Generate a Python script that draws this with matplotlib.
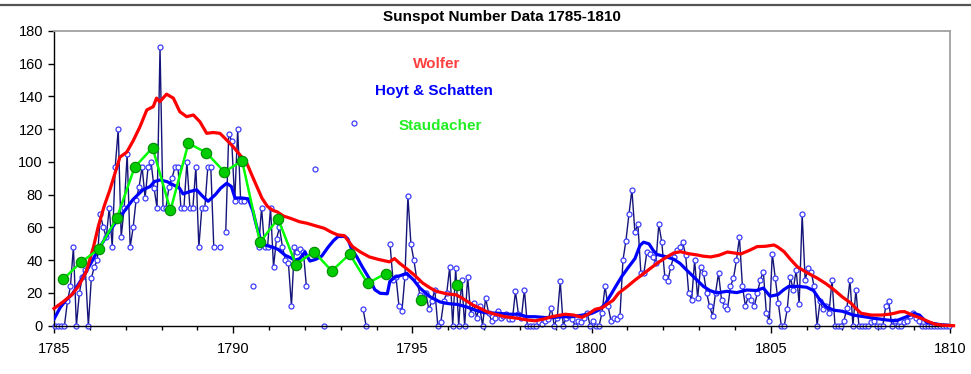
import numpy as np
import matplotlib
matplotlib.use("Agg")
import matplotlib.pyplot as plt
from matplotlib.lines import Line2D

plt.rcParams['font.family'] = ['Liberation Sans', 'DejaVu Sans']

# ---------------------------------------------------------------------------
# Hoyt & Schatten monthly group sunspot numbers, Jan 1785 .. Dec 1809
# (None = no observation that month)
# ---------------------------------------------------------------------------
hs_monthly = [
    0, 0, 0, 0, 15, 24, 48, 0, 20, 30, 34, 0,                 # 1785
    29, 36, 40, 68, 60, 54, 72, 48, 97, 120, 54, 72,           # 1786
    105, 48, 60, 77, 85, 97, 78, 97, 100, 84, 72, 170,         # 1787
    72, 72, 85, 90, 97, 97, 72, 72, 100, 72, 72, 97,           # 1788
    48, 72, 72, 97, 97, 48, None, 48, None, 57, 117, 113,      # 1789
    76, 120, 76, 76, None, None, 24, None, 48, 72, 48, 48,     # 1790
    72, 36, 53, 60, 48, 40, 38, 12, 48, 45, 47, 45,            # 1791
    24, None, None, 96, None, None, 0, None, None, None, None, None,  # 1792
    None, None, None, None, 124, None, None, 10, 0, None, None, None,  # 1793
    None, None, None, None, 50, 28, 30, 12, 9, 30, 79, 50,     # 1794
    40, 28, 19, 16, 20, 10, 15, 22, 0, 2, 15, 20,              # 1795
    36, 0, 35, 0, 28, 0, 30, 7, 14, 5, 12, 0,                  # 1796
    17, 8, 3, 5, 9, 5, 6, 7, 4, 4, 21, 7,                      # 1797
    5, 22, 0, 0, 0, 0, 2, 1, 3, 4, 11, 0,                      # 1798
    5, 27, 0, 5, 6, 4, 0, 3, 2, 5, 8, 0,                       # 1799
    3, 0, 0, 8, 24, 12, 3, 5, 4, 6, 40, 52,                    # 1800
    68, 83, 57, 62, 32, 32, 45, 44, 42, 38, 62, 51,            # 1801
    30, 27, 36, 42, 46, 48, 51, 43, 20, 16, 40, 17,            # 1802
    36, 32, 20, 12, 6, 20, 32, 16, 12, 10, 24, 29,             # 1803
    40, 54, 24, 12, 18, 16, 12, 20, 28, 33, 8, 3,              # 1804
    44, 29, 14, 0, 0, 10, 30, 22, 34, 13, 68, 28,              # 1805
    35, 33, 24, 0, 15, 10, 12, 8, 28, 0, 0, 0,                 # 1806
    3, 11, 28, 0, 22, 0, 0, 0, 0, 2, 3, 0,                     # 1807
    0, 0, 12, 15, 0, 3, 0, 0, 2, 3, 6, 8,                      # 1808
    5, 3, 0, 0, 0, 0, 0, 0, 0, 0, 0, 0,                        # 1809
]

# Smoothed Hoyt & Schatten series
hs_smooth_years = [
    1785.0, 1785.17, 1785.35, 1785.5, 1785.73, 1786.0, 1786.15, 1786.28, 1786.45,
    1786.56, 1786.75, 1786.93, 1787.2, 1787.48, 1787.68, 1787.8, 1787.96, 1788.15,
    1788.33, 1788.5, 1788.6, 1788.8, 1788.98, 1789.15, 1789.3, 1789.5, 1789.65,
    1789.82, 1789.95, 1790.05, 1790.25, 1790.42, 1790.55, 1790.65, 1790.8, 1790.93,
    1791.1, 1791.26, 1791.45, 1791.6, 1791.72, 1791.86, 1792.0, 1792.14, 1792.3,
    1792.47, 1792.65, 1792.8, 1792.93, 1793.12, 1793.2, 1793.3, 1793.45, 1793.6,
    1793.82, 1793.95, 1794.1, 1794.3, 1794.37, 1794.5, 1794.65, 1794.84, 1795.03,
    1795.21, 1795.49, 1795.77, 1796.0, 1796.25, 1796.51, 1796.75, 1797.0, 1797.4,
    1797.7, 1797.96, 1798.19, 1798.42, 1798.7, 1798.9, 1799.2, 1799.45, 1799.75,
    1800.0, 1800.2, 1800.37, 1800.56, 1800.7, 1800.84, 1801.02, 1801.21, 1801.35,
    1801.45, 1801.6, 1801.72, 1801.82, 1802.1, 1802.3, 1802.47, 1802.65, 1802.84,
    1803.12, 1803.3, 1803.49, 1803.77, 1804.05, 1804.33, 1804.6, 1804.79, 1804.98,
    1805.2, 1805.35, 1805.5, 1805.77, 1806.0, 1806.19, 1806.37, 1806.55, 1806.75,
    1807.0, 1807.3, 1807.6, 1807.9, 1808.23, 1808.5, 1808.79, 1809.0, 1809.15,
    1809.35, 1809.58, 1809.8, 1810.0,
]
hs_smooth_values = [
    4, 11, 16, 19, 27, 37, 43, 48, 54,
    58, 64, 69, 77, 83, 85, 88, 89, 88,
    86, 84, 80.5, 82, 83, 79, 76, 80, 84,
    87, 85, 78, 78, 77.5, 70, 61, 50, 49,
    48, 46.5, 43, 41.5, 40, 41, 45, 39.5, 40.5,
    42.5, 48, 52, 54.5, 54.5, 53, 47, 42, 36,
    28, 22, 19.8, 19.5, 27, 29.5, 30.5, 32, 28,
    23, 17.7, 14.5, 13.5, 13, 11.5, 9.5, 8, 7.6,
    7, 7, 5.5, 5.5, 5, 5, 5.5, 5.5, 6.5,
    7.5, 9.5, 13, 19.8, 25, 30, 35.5, 41, 49,
    51, 50, 46, 43.5, 42, 40.5, 38, 34, 30,
    24, 21.5, 20, 21, 20.2, 21.8, 21.5, 23, 18,
    19, 21.8, 24, 24, 23.5, 21.5, 15.7, 11.5, 9.5,
    8.8, 6.5, 5.5, 4.5, 3.5, 3, 5.5, 7.5, 6.5,
    2, 1.2, 0.4, 0,
]

# Wolfer smoothed sunspot numbers
wolfer_years = [
    1785.0, 1785.25, 1785.5, 1785.68, 1785.9, 1786.1, 1786.24, 1786.4, 1786.56,
    1786.7, 1786.84, 1787.03, 1787.21, 1787.4, 1787.59, 1787.77, 1787.86, 1787.95,
    1788.14, 1788.33, 1788.51, 1788.7, 1788.89, 1789.07, 1789.26, 1789.44, 1789.63,
    1789.82, 1790.0, 1790.19, 1790.38, 1790.52, 1790.66, 1790.8, 1790.95, 1791.1,
    1791.23, 1791.4, 1791.61, 1791.85, 1792.07, 1792.3, 1792.54, 1792.75, 1792.91,
    1793.1, 1793.33, 1793.55, 1793.8, 1794.05, 1794.36, 1794.5, 1794.65, 1794.83,
    1795.05, 1795.29, 1795.5, 1795.67, 1795.95, 1796.23, 1796.45, 1796.69, 1796.9,
    1797.07, 1797.3, 1797.58, 1797.95, 1798.2, 1798.42, 1798.65, 1798.89, 1799.26,
    1799.5, 1799.73, 1799.9, 1800.1, 1800.3, 1800.47, 1800.6, 1800.75, 1801.0,
    1801.22, 1801.4, 1801.64, 1801.85, 1802.1, 1802.3, 1802.48, 1802.7, 1802.95,
    1803.1, 1803.32, 1803.55, 1803.79, 1803.95, 1804.16, 1804.4, 1804.62, 1804.85,
    1805.09, 1805.2, 1805.37, 1805.55, 1805.74, 1806.0, 1806.3, 1806.55, 1806.77,
    1807.0, 1807.24, 1807.4, 1807.52, 1807.8, 1808.08, 1808.3, 1808.45, 1808.6,
    1808.73, 1808.95, 1809.2, 1809.4, 1809.57, 1809.8, 1810.1,
]
wolfer_values = [
    10.5, 14.5, 19, 24, 33, 48, 61, 73, 83,
    93, 103, 106, 113, 121.6, 131.8, 133.8, 139, 136.8,
    141.4, 139, 130.7, 127.7, 128.7, 124.6, 117.5, 118, 117.5,
    113.4, 109.3, 104.3, 99.2, 92, 85, 78, 73, 70.5,
    69.5, 67, 65.5, 63.5, 62.5, 61, 59.5, 57, 55.5,
    55, 48.3, 45, 42, 40.5, 39, 41, 38, 35,
    31, 26, 23, 21, 19.5, 18.8, 16, 12.6, 10.5,
    8.6, 7, 5.5, 4.5, 3.5, 3, 4, 5.5, 7,
    6.5, 5.1, 7, 10, 11, 13.7, 15.5, 19.8, 24,
    28, 31, 35, 38.5, 42, 44.5, 45.2, 44, 43.2,
    42.5, 42, 43, 45, 44.5, 43.8, 46, 48.3, 48.5,
    49.3, 48, 45.2, 40.5, 36, 32.5, 29, 25.5, 21.8,
    17.5, 13.7, 10, 7.6, 6.5, 6.5, 7, 7.6, 8.5,
    8.6, 6.5, 4.5, 2.5, 1, 0.3, 0,
]

# Staudacher half-yearly values (None = missing)
staudacher_years = [
    1785.25, 1785.75, 1786.25, 1786.75, 1787.25, 1787.75, 1788.25, 1788.75,
    1789.25, 1789.75, 1790.25, 1790.75, 1791.25, 1791.75, 1792.25, 1792.75,
    1793.25, 1793.75, 1794.25, 1794.75, 1795.25, 1795.75, 1796.25,
]
staudacher_values = [
    28.3, 38.7, 46.8, 65.5, 96.8, 108.7, 70.5, 111.4,
    105.7, 94, 100.6, 51, 65.4, 37.3, 45.3, 33.4,
    43.8, 25.9, 31.8, None, 15.7, None, 24.9,
]

title = "Sunspot Number Data 1785-1810"
x_ticks = [1785, 1790, 1795, 1800, 1805, 1810]
y_ticks = [0, 20, 40, 60, 80, 100, 120, 140, 160, 180]

# ---------------------------------------------------------------------------
W, H = 971, 374
fig = plt.figure(figsize=(W / 100, H / 100), dpi=100)
fig.patch.set_facecolor('white')

left, right, top, bottom = 54, 950, 31, 325.7
ax = fig.add_axes([left / W, 1 - bottom / H, (right - left) / W, (bottom - top) / H])

def as_float(vals):
    return np.array([np.nan if v is None else v for v in vals], dtype=float)

months = 1785 + (np.arange(len(hs_monthly)) + 0.5) / 12.0

ax.plot(months, as_float(hs_monthly), color='#14147a', lw=1.0,
        marker='o', ms=3.6, mfc='white', mec='#3c3cff', mew=0.9,
        zorder=2, clip_on=False)
ax.plot(hs_smooth_years, hs_smooth_values, color='#0000ff', lw=2.3, zorder=3)
ax.plot(wolfer_years, wolfer_values, color='#ff0000', lw=2.3, zorder=4,
        clip_on=False)
ax.plot(staudacher_years, as_float(staudacher_values), color='#00ff00', lw=1.8,
        marker='o', ms=7.5, mfc='#00cc00', mec='#008a00', mew=0.8, zorder=5)

ax.set_xlim(1785, 1810)
ax.set_ylim(0, 180)
ax.set_xticks(x_ticks)
ax.set_xticks(np.arange(1785, 1811, 1), minor=True)
ax.set_yticks(y_ticks)

ax.tick_params(axis='x', which='major', length=5, width=1, pad=7,
               labelsize=10.5, colors='black')
ax.tick_params(axis='x', which='minor', length=3, width=1)
ax.tick_params(axis='y', which='major', length=4, width=1, pad=4,
               labelsize=10.5)

for side in ('top', 'right'):
    ax.spines[side].set_color('#a0a0a0')
    ax.spines[side].set_linewidth(1.3)
for side in ('left', 'bottom'):
    ax.spines[side].set_color('black')
    ax.spines[side].set_linewidth(1.0)

# series labels
ax.text(1795.68, 160, 'Wolfer', color='#ff4040', fontsize=11,
        fontweight='bold', ha='center', va='center')
ax.text(1795.6, 143.4, 'Hoyt & Schatten', color='#0000ff', fontsize=11,
        fontweight='bold', ha='center', va='center')
ax.text(1795.77, 122, 'Staudacher', color='#22ee22', fontsize=11,
        fontweight='bold', ha='center', va='center')

fig.text(502 / W, 1 - 17.5 / H, title, ha='center', va='center',
         fontsize=11, fontweight='bold', color='black')
fig.add_artist(Line2D([0, 1], [1 - 5 / H, 1 - 5 / H], transform=fig.transFigure,
                      color='#555555', lw=1.6))

fig.savefig('out.png', dpi=100, facecolor='white')
